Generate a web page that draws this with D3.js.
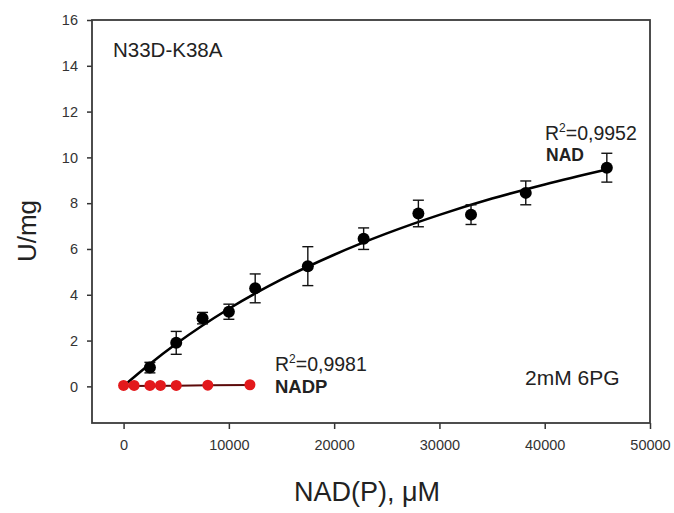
<!DOCTYPE html>
<html>
<head>
<meta charset="utf-8">
<script src="https://cdn.jsdelivr.net/npm/d3@7"></script>
<style>
  body { margin: 0; background: #fff; }
  svg { display: block; }
  text { font-family: "Liberation Sans", Arial, sans-serif; }
</style>
</head>
<body>
<svg id="chart" width="674" height="513"></svg>
<script>
// ---- data ----
const nadX   = [2500, 5000, 7500, 10000, 12500, 17500, 22800, 28000, 33000, 38200, 45900];
const nadY   = [0.82, 1.90, 2.98, 3.26, 4.28, 5.25, 6.45, 7.55, 7.50, 8.45, 9.55];
const nadErr = [0.23, 0.50, 0.25, 0.33, 0.63, 0.85, 0.47, 0.58, 0.43, 0.52, 0.63];

// fitted curve for NAD
const nadFitX = [0, 2500, 5000, 10000, 15000, 20000, 25000, 30000, 35000, 40000, 46000];
const nadFitY = [0.02, 0.98, 1.86, 3.39, 4.67, 5.75, 6.68, 7.49, 8.20, 8.82, 9.48];

const nadpX = [0, 1000, 2500, 3500, 5000, 8000, 12000];
const nadpY = [0.04, 0.04, 0.04, 0.04, 0.04, 0.05, 0.07];
const nadpFitX = [0, 5000, 8000, 12000];
const nadpFitY = [0.02, 0.03, 0.05, 0.06];

const xTicks = [0, 10000, 20000, 30000, 40000, 50000];
const yTicks = [0, 2, 4, 6, 8, 10, 12, 14, 16];

// ---- layout ----
const svg = d3.select("#chart");
const mLeft = 92, mRight = 650, mTop = 20, mBottom = 423;

const x = d3.scaleLinear().domain([-3000, 50000]).range([mLeft, mRight]);
const y = d3.scaleLinear().domain([-1.6, 16]).range([mBottom, mTop]);

// axes
const yAxis = d3.axisLeft(y).tickValues(yTicks).tickSize(5).tickPadding(9).tickFormat(d3.format("d"));
const xAxis = d3.axisBottom(x).tickValues(xTicks).tickSize(6).tickPadding(11).tickFormat(d3.format("d"));

const gy = svg.append("g").attr("transform", `translate(${mLeft},0)`).call(yAxis);
const gx = svg.append("g").attr("transform", `translate(0,${mBottom})`).call(xAxis);
[gx, gy].forEach(g => {
  g.select(".domain").remove();
  g.selectAll(".tick line").attr("stroke", "#333").attr("stroke-width", 1.5);
  g.selectAll(".tick text").attr("fill", "#333").style("font-size", "14.5px")
    .style("font-family", "'Liberation Sans', Arial, sans-serif");
});

// frame
svg.append("rect")
  .attr("x", mLeft).attr("y", mTop)
  .attr("width", mRight - mLeft).attr("height", mBottom - mTop)
  .attr("fill", "none").attr("stroke", "#3a3a3a").attr("stroke-width", 1.8);

// NAD fit curve
const line = d3.line().x(d => x(d[0])).y(d => y(d[1])).curve(d3.curveMonotoneX);
svg.append("path")
  .datum(nadFitX.map((v, i) => [v, nadFitY[i]]))
  .attr("d", line)
  .attr("fill", "none").attr("stroke", "#000").attr("stroke-width", 2.6);

// NAD error bars
const nad = nadX.map((v, i) => ({x: v, y: nadY[i], e: nadErr[i]}));
const eb = svg.append("g").attr("stroke", "#111").attr("stroke-width", 1.4);
const cap = 5.5;
nad.forEach(d => {
  eb.append("line").attr("x1", x(d.x)).attr("x2", x(d.x)).attr("y1", y(d.y - d.e)).attr("y2", y(d.y + d.e));
  eb.append("line").attr("x1", x(d.x) - cap).attr("x2", x(d.x) + cap).attr("y1", y(d.y + d.e)).attr("y2", y(d.y + d.e));
  eb.append("line").attr("x1", x(d.x) - cap).attr("x2", x(d.x) + cap).attr("y1", y(d.y - d.e)).attr("y2", y(d.y - d.e));
});

// NAD points
svg.append("g").selectAll("circle").data(nad).join("circle")
  .attr("cx", d => x(d.x)).attr("cy", d => y(d.y)).attr("r", 6).attr("fill", "#000");

// NADP line + points
svg.append("path")
  .datum(nadpFitX.map((v, i) => [v, nadpFitY[i]]))
  .attr("d", d3.line().x(d => x(d[0])).y(d => y(d[1])))
  .attr("fill", "none").attr("stroke", "#5c0a0a").attr("stroke-width", 2);
svg.append("g").selectAll("circle").data(nadpX.map((v, i) => ({x: v, y: nadpY[i]}))).join("circle")
  .attr("cx", d => x(d.x)).attr("cy", d => y(d.y)).attr("r", 5.5).attr("fill", "#e3191c");

// annotations
const txt = (s, px, py, size, weight) => svg.append("text")
  .attr("x", px).attr("y", py).attr("fill", "#222")
  .style("font-size", size + "px").style("font-weight", weight || "normal").text(s);

txt("N33D-K38A", 113, 57, 20.5);
txt("2mM 6PG", 525, 385, 21);

function r2(px, py, val) {
  const t = svg.append("text").attr("x", px).attr("y", py).attr("fill", "#222").style("font-size", "19.5px");
  t.append("tspan").text("R");
  t.append("tspan").attr("dy", -8).style("font-size", "12px").text("2");
  t.append("tspan").attr("dy", 8).text("=" + val);
}
r2(545, 140, "0,9952");
txt("NAD", 546, 161, 17.5, "bold");
r2(275, 371, "0,9981");
txt("NADP", 275, 393, 18.5, "bold");

// axis titles
svg.append("text").attr("x", (mLeft + mRight) / 2 - 4).attr("y", 501)
  .attr("text-anchor", "middle").attr("fill", "#222").style("font-size", "27px").text("NAD(P), μM");
svg.append("text").attr("transform", "translate(36,231) rotate(-90)")
  .attr("text-anchor", "middle").attr("fill", "#222").style("font-size", "26px").text("U/mg");
</script>
</body>
</html>
